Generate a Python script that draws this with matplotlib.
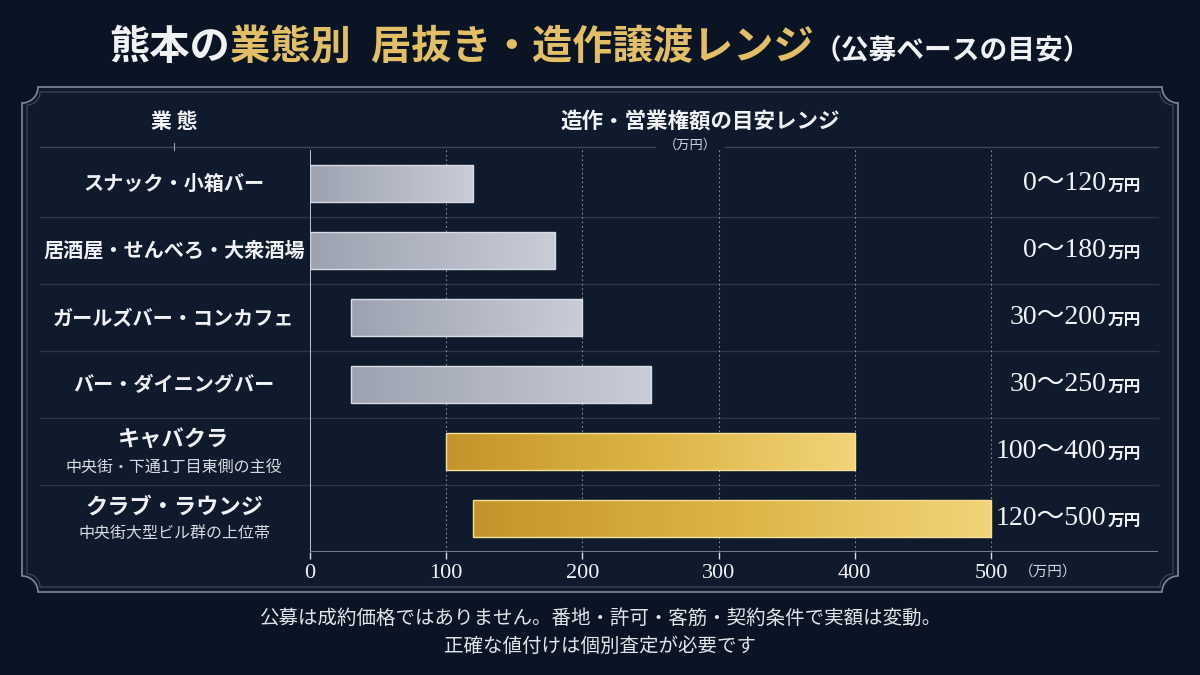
import matplotlib
matplotlib.use("Agg")
import matplotlib.pyplot as plt
import numpy as np
from matplotlib.colors import LinearSegmentedColormap
from matplotlib.patches import Polygon, Rectangle
from matplotlib.transforms import blended_transform_factory

plt.rcParams['font.family'] = ['Noto Sans CJK JP', 'DejaVu Sans']

# ---- data -------------------------------------------------------
categories = ["スナック・小箱バー", "居酒屋・せんべろ・大衆酒場",
              "ガールズバー・コンカフェ", "バー・ダイニングバー",
              "キャバクラ", "クラブ・ラウンジ"]
subtitles = ["", "", "", "", "中央街・下通1丁目東側の主役",
             "中央街大型ビル群の上位帯"]
low = [0, 0, 30, 30, 100, 120]
high = [120, 180, 200, 250, 400, 500]
premium = [False, False, False, False, True, True]
xticks = [0, 100, 200, 300, 400, 500]

BG = "#0b1424"
PANEL = "#0f1a2c"
WHITE = "#f1f2f4"
GOLD = "#e2bf66"
SEP = "#2a3649"
NUM = ['Liberation Serif', 'Noto Sans CJK JP']

fig = plt.figure(figsize=(12, 6.75), dpi=100, facecolor=BG)

# background / decoration layer in pixel coordinates
bg = fig.add_axes([0, 0, 1, 1], zorder=0)
bg.set_xlim(0, 1200)
bg.set_ylim(675, 0)
bg.axis("off")


def frame(x0, y0, x1, y1, r):
    # rectangle with concave (notched) corners
    t = np.linspace(0, np.pi / 2, 20)
    tl = [(x0 + r * np.sin(a), y0 + r * np.cos(a)) for a in t]
    tr = [(x1 - r * np.cos(a), y0 + r * np.sin(a)) for a in t]
    br = [(x1 - r * np.sin(a), y1 - r * np.cos(a)) for a in t]
    bl = [(x0 + r * np.cos(a), y1 - r * np.sin(a)) for a in t]
    return np.array(tl + tr + br + bl)


bg.add_patch(Polygon(frame(22, 87, 1178, 592, 16), closed=True,
                     facecolor=PANEL, edgecolor="#7f8898", lw=1.2))
bg.add_patch(Polygon(frame(27, 92, 1173, 587, 13), closed=True,
                     facecolor="none", edgecolor="#3c4759", lw=0.9))

# title in three colour pieces
pieces = [("熊本の", WHITE, 29), ("業態別\u2002居抜き・造作譲渡レンジ", GOLD, 29),
          ("（公募ベースの目安）", WHITE, 20)]
ttl = [bg.text(0, 59, s, color=c, fontsize=fs, fontweight="bold",
               ha="left", va="baseline") for s, c, fs in pieces]
fig.canvas.draw()
rend = fig.canvas.get_renderer()
wid = [t.get_window_extent(rend).width for t in ttl]
x = 600 - sum(wid) / 2
for t, w in zip(ttl, wid):
    t.set_x(x)
    x += w

# header row
bg.text(174, 121, "業 態", color=WHITE, fontsize=15, fontweight="bold",
        ha="center", va="center")
bg.text(700, 121, "造作・営業権額の目安レンジ", color=WHITE, fontsize=15.5,
        fontweight="bold", ha="center", va="center")
bg.text(690, 145, "（万円）", color="#d0d4db", fontsize=9.5,
        ha="center", va="center")
bg.plot([40, 655], [147, 147], color="#3a4659", lw=1)
bg.plot([725, 1158], [147, 147], color="#3a4659", lw=1)
bg.plot([174, 174], [143, 150], color="#9aa2b0", lw=0.8)

# footer
bg.text(600, 618, "公募は成約価格ではありません。番地・許可・客筋・契約条件で実額は変動。",
        color="#e3e5e9", fontsize=14, ha="center", va="center")
bg.text(600, 646, "正確な値付けは個別査定が必要です",
        color="#e3e5e9", fontsize=14, ha="center", va="center")
bg.text(1048, 572, "（万円）", color="#d0d4db", fontsize=10.5,
        ha="center", va="center")

# ---- chart --------------------------------------------------------
ax = fig.add_axes([310 / 1200, (675 - 552) / 675, (1158 - 310) / 1200,
                   (552 - 150) / 675], zorder=1)
ax.patch.set_alpha(0)
xmax = 500 * (1158 - 310) / (991 - 310)
y = np.arange(len(categories))

gray_cm = LinearSegmentedColormap.from_list("g", ["#9ca2af", "#b2b7c3", "#c8cdd8"])
gold_cm = LinearSegmentedColormap.from_list("y", ["#c3942b", "#dcb446", "#f1d477"])
grad = np.linspace(0, 1, 256).reshape(1, -1)

bars = ax.barh(y, np.array(high) - np.array(low), left=low, height=0.56,
               color="#b5bac5", zorder=3)
for b, p in zip(bars, premium):
    x0, y0 = b.get_x(), b.get_y()
    im = ax.imshow(grad, cmap=gold_cm if p else gray_cm, aspect="auto",
                   extent=[x0, x0 + b.get_width(), y0 + b.get_height(), y0],
                   zorder=4)
    im.set_clip_path(b)
    ax.add_patch(Rectangle((x0, y0), b.get_width(), b.get_height(),
                           facecolor="none", lw=1, zorder=5,
                           edgecolor="#f5e09a" if p else "#d8dce3"))

ax.set_xlim(0, xmax)
ax.set_ylim(len(categories) - 0.5, -0.5)
ax.vlines(xticks[1:], -0.5, len(categories) - 0.5, colors="#8790a0",
          linestyles=(0, (1.5, 2.5)), lw=0.8, zorder=2)
ax.axvline(0, color="#cfd3da", lw=1.3, zorder=6)
ax.axhline(len(categories) - 0.5, color="#7d879a", lw=1.3, zorder=6)
for s in ax.spines.values():
    s.set_visible(False)
ax.set_yticks([])
ax.set_xticks(xticks)
ax.set_xticklabels([str(v) for v in xticks], family=NUM)
ax.tick_params(axis="x", length=5, width=1, colors="#d9dce2", pad=4,
               labelsize=16, labelcolor=WHITE)

fx = blended_transform_factory(fig.transFigure, ax.transData)
px = blended_transform_factory(bg.transData, ax.transData)
for b in np.arange(0.5, len(categories) - 0.5):
    ax.plot([40 / 1200, 1158 / 1200], [b, b], transform=fx, clip_on=False,
            color=SEP, lw=1, zorder=1)

for i, (cat, sub) in enumerate(zip(categories, subtitles)):
    if sub:
        ax.text(174, i - 0.17, cat, transform=px, color=WHITE, fontsize=16,
                fontweight="bold", ha="center", va="center")
        ax.text(174, i + 0.23, sub, transform=px, color="#d8dbe1",
                fontsize=11.5, ha="center", va="center")
    else:
        ax.text(174, i, cat, transform=px, color=WHITE, fontsize=14.5,
                fontweight="bold", ha="center", va="center")
    ax.text(1106, i, f"{low[i]}～{high[i]}", transform=px, color=WHITE,
            fontsize=20, family=NUM, ha="right", va="center")
    ax.text(1108, i + 0.04, "万円", transform=px, color=WHITE, fontsize=12,
            fontweight="bold", ha="left", va="center")

fig.savefig("out.png", dpi=100, facecolor=BG)
